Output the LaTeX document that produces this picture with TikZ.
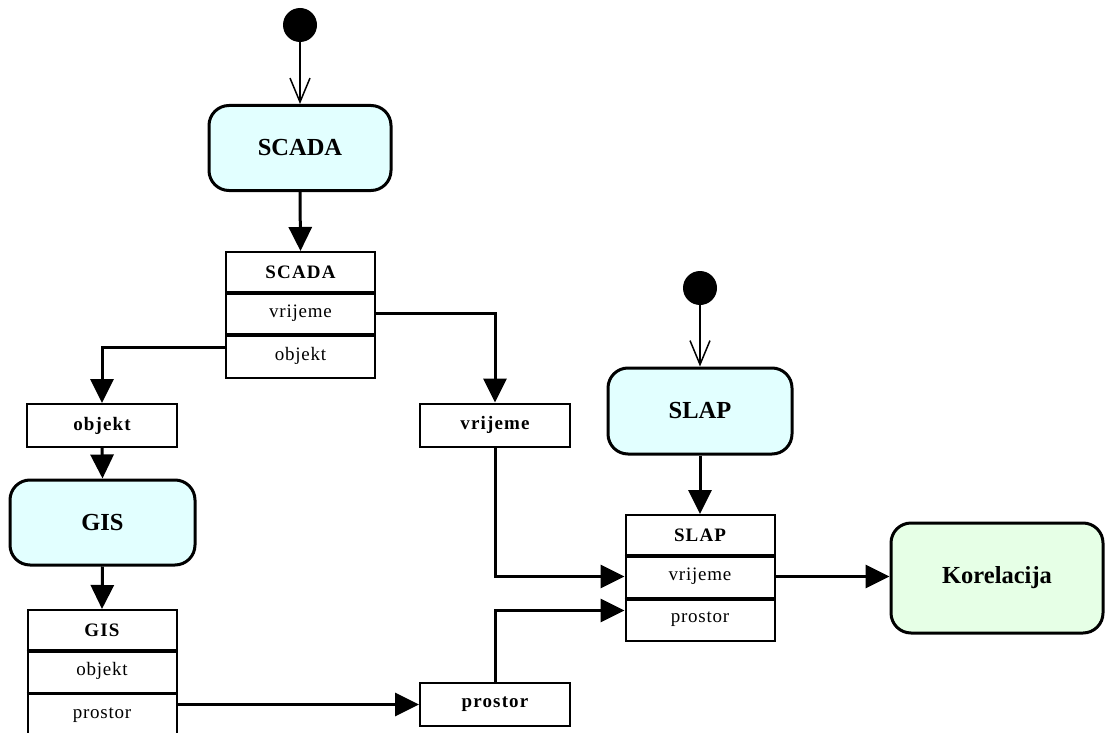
\documentclass[tikz,border=0pt]{standalone}
\usepackage{fontspec}
\setmainfont{Liberation Serif}
\usetikzlibrary{arrows.meta}
\definecolor{actfill}{HTML}{E2FFFF}
\definecolor{korfill}{HTML}{E6FFE6}
\tikzset{
  act/.style={draw, line width=3pt, rounded corners=20pt, fill=actfill, inner sep=0pt,
    font=\fontsize{24.5}{28}\selectfont\bfseries},
  cell/.style={draw, line width=2pt, minimum width=149pt, inner sep=0pt,
    font=\fontsize{19}{22}\selectfont\addfontfeatures{LetterSpace=4}},
  hcell/.style={cell, font=\fontsize{19}{22}\selectfont\bfseries\addfontfeatures{LetterSpace=6}},
  objbox/.style={draw, line width=2pt, minimum width=150pt, minimum height=43pt, inner sep=0pt,
    font=\fontsize{19}{22}\selectfont\bfseries\addfontfeatures{LetterSpace=6}},
  initdot/.style={circle, fill=black, minimum size=34pt, inner sep=0pt},
  flow/.style={line width=3pt, -{Triangle[length=24pt,width=23pt]}},
  startflow/.style={line width=1.5pt, -{Straight Barb[length=24pt,width=20pt,line width=1.5pt]}},
}
\begin{document}
\begin{tikzpicture}[x=1pt,y=-1pt]
\useasboundingbox (0,0) rectangle (1105,733);
\clip (0,0) rectangle (1105,733);
% initial nodes
\node[initdot] (i1) at (300,25) {};
\node[initdot] (i2) at (700,288) {};
% actions
\node[act, minimum width=182pt, minimum height=85pt] (scada) at (300,148) {SCADA};
\node[act, minimum width=185pt, minimum height=85pt] (gis) at (102.5,522.5) {GIS};
\node[act, minimum width=184pt, minimum height=86pt] (slap) at (700,411) {SLAP};
\node[act, fill=korfill, minimum width=212pt, minimum height=110pt] (kor) at (997,578) {Korelacija};
% SCADA table
\node[hcell, minimum height=40pt] (scH) at (300.5,272) {SCADA};
\node[cell, minimum height=42pt] (scV) at (300.5,313) {vrijeme};
\node[cell, minimum height=43pt] (scO) at (300.5,356) {objekt};
% GIS table
\node[hcell, minimum height=40pt] (giH) at (102,630) {GIS};
\node[cell, minimum height=43pt] (giO) at (102,671) {objekt};
\node[cell, minimum height=44pt] (giP) at (102,715) {prostor};
% SLAP table
\node[hcell, minimum height=40pt] (slH) at (700,535) {SLAP};
\node[cell, minimum height=43pt] (slV) at (700,576.5) {vrijeme};
\node[cell, minimum height=43pt] (slP) at (700,619.5) {prostor};
% object boxes
\node[objbox] (obB) at (102,425.5) {objekt};
\node[objbox] (vrB) at (495,425) {vrijeme};
\node[objbox] (prB) at (495,704.5) {prostor};
% thicker row separators
\foreach \a/\b in {scH/scV, scV/scO, giH/giO, giO/giP, slH/slV, slV/slP}
  \draw[line width=3pt] (\a.south west) -- (\a.south east);
% connectors
\draw[startflow] (i1) -- (scada.north);
\draw[startflow] (i2) -- (slap.north);
\draw[flow] (scada.south) -- (scH.north);
\draw[flow] (slap.south) -- (slH.north);
\draw[flow] (gis.south) -- (giH.north);
\draw[flow] (obB.south) -- (gis.north);
\draw[flow] (scV.east) -| (vrB.north);
\draw[flow] ([yshift=9pt]scO.west) -| (obB.north);
\draw[flow] (giP.east |- prB.west) -- (prB.west);
\draw[flow] (vrB.south) |- (slV.west);
\draw[flow] (prB.north) |- ([yshift=9pt]slP.west);
\draw[flow] (slV.east) -- (slV.east -| kor.west);
\end{tikzpicture}
\end{document}
